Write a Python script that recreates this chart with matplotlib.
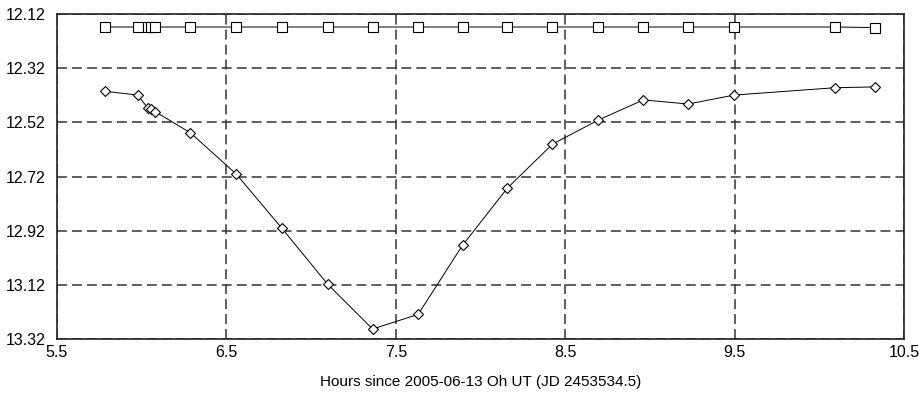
import matplotlib
matplotlib.use("Agg")
import matplotlib.pyplot as plt

hours = [5.783, 5.976, 6.035, 6.055, 6.079, 6.287, 6.559, 6.827, 7.098, 7.363,
         7.632, 7.894, 8.159, 8.425, 8.696, 8.961, 9.226, 9.498, 10.092, 10.329]
comp_mag = [12.168, 12.168, 12.168, 12.168, 12.168, 12.168, 12.168, 12.168, 12.168, 12.168,
            12.168, 12.168, 12.168, 12.168, 12.168, 12.168, 12.168, 12.168, 12.168, 12.170]
var_mag = [12.405, 12.419, 12.466, 12.471, 12.480, 12.558, 12.711, 12.910, 13.117, 13.282,
           13.228, 12.973, 12.762, 12.600, 12.511, 12.437, 12.452, 12.419, 12.392, 12.389]

xticks = [5.5, 6.5, 7.5, 8.5, 9.5, 10.5]
yticks = [12.12, 12.32, 12.52, 12.72, 12.92, 13.12, 13.32]
xlabel = "Hours since 2005-06-13 Oh UT (JD 2453534.5)"

plt.rcParams['font.family'] = ['Liberation Sans', 'DejaVu Sans']

fig = plt.figure(figsize=(9.19, 3.94), dpi=100)
ax = fig.add_axes([0.062, 0.1388, 0.9217, 0.8257])

ax.plot(hours, comp_mag, color='black', lw=0.7, marker='s', ms=7.0,
        mfc='white', mec='black', mew=0.8, zorder=3)
ax.plot(hours, var_mag, color='black', lw=0.7, marker='D', ms=5.0,
        mfc='white', mec='black', mew=0.8, zorder=3)

ax.set_xlim(5.5, 10.5)
ax.set_ylim(13.32, 12.12)
ax.set_xticks(xticks)
ax.set_xticklabels([f"{v:g}" for v in xticks])
ax.set_yticks(yticks)
ax.set_yticklabels([f"{v:.2f}" for v in yticks])
ax.tick_params(axis='both', length=0, labelsize=11.5, colors='black')
ax.tick_params(axis='y', pad=8)
ax.tick_params(axis='x', pad=4)

ax.grid(True, color='#333333', lw=1.1, linestyle=(0, (6.5, 3.3)))
ax.set_axisbelow(True)
for s in ax.spines.values():
    s.set_linewidth(1.2)
    s.set_color('#222222')

ax.set_xlabel(xlabel, fontsize=11, labelpad=11)

fig.savefig("out.png", dpi=100)
